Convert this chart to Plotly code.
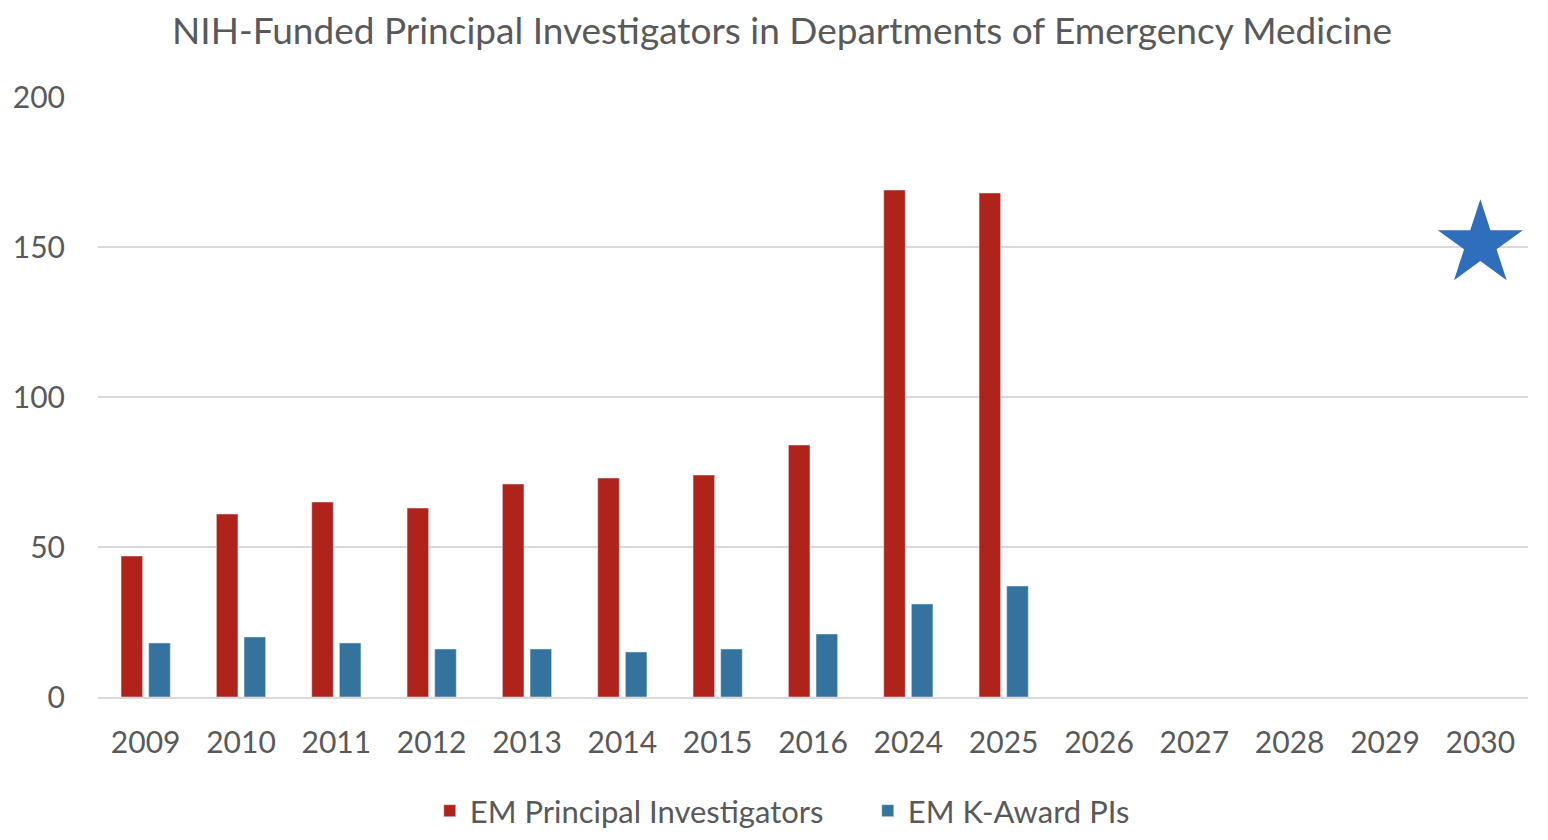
import plotly.graph_objects as go

# values
years = ["2009", "2010", "2011", "2012", "2013", "2014", "2015", "2016",
         "2024", "2025", "2026", "2027", "2028", "2029", "2030"]
em_pis = [47, 61, 65, 63, 71, 73, 74, 84, 169, 168, None, None, None, None, None]
k_award_pis = [18, 20, 18, 16, 16, 15, 16, 21, 31, 37, None, None, None, None, None]

# target marker
goal_year = ["2030"]
goal_value = [151]

red = "#AF231A"
blue = "#34739E"
grey = "#595959"
font_name = "Lato, 'Open Sans', sans-serif"

trace0 = go.Bar(x=years, y=em_pis, name="EM Principal Investigators",
                marker=dict(color=red))
trace1 = go.Bar(x=years, y=k_award_pis, name="EM K-Award PIs",
                marker=dict(color=blue))
star = go.Scatter(x=goal_year, y=goal_value, mode="markers", showlegend=False,
                  marker=dict(symbol="star", size=64, color="#2F6EBA"),
                  cliponaxis=False, hoverinfo="skip")

# page body has an 8px margin, so the margins are shifted by that much
layout = go.Layout(
    width=1548, height=840,
    paper_bgcolor="white", plot_bgcolor="white",
    margin=dict(l=90, r=28, t=89, b=151, autoexpand=False),
    font=dict(family=font_name, color=grey, size=30),
    title=dict(text="NIH-Funded Principal Investigators in Departments of Emergency Medicine",
               x=0.5, xanchor="center", y=0.973, yanchor="middle",
               font=dict(size=37, color=grey)),
    barmode="group", bargap=0.42, bargroupgap=0.22,
    xaxis=dict(type="category", categoryorder="array", categoryarray=years,
               range=[-0.5, len(years) - 0.5], autorange=False,
               showgrid=False, showline=True, linecolor="#D9D9D9", linewidth=2,
               ticks="", ticklabelstandoff=18, tickfont=dict(size=30, color=grey)),
    yaxis=dict(range=[0, 200], tickvals=[0, 50, 100, 150, 200],
               showgrid=True, gridcolor="#D9D9D9", gridwidth=2,
               zeroline=False, showline=False, ticks="",
               ticklabelstandoff=32, tickfont=dict(size=30, color=grey)),
    legend=dict(orientation="h", x=0.232, xanchor="left", y=-0.19, yanchor="middle",
                font=dict(size=31, color=grey), itemwidth=30,
                entrywidth=393, entrywidthmode="pixels",
                traceorder="normal"),
)

fig = go.Figure(data=[trace0, trace1, star], layout=layout)
fig.write_html("out.html")
